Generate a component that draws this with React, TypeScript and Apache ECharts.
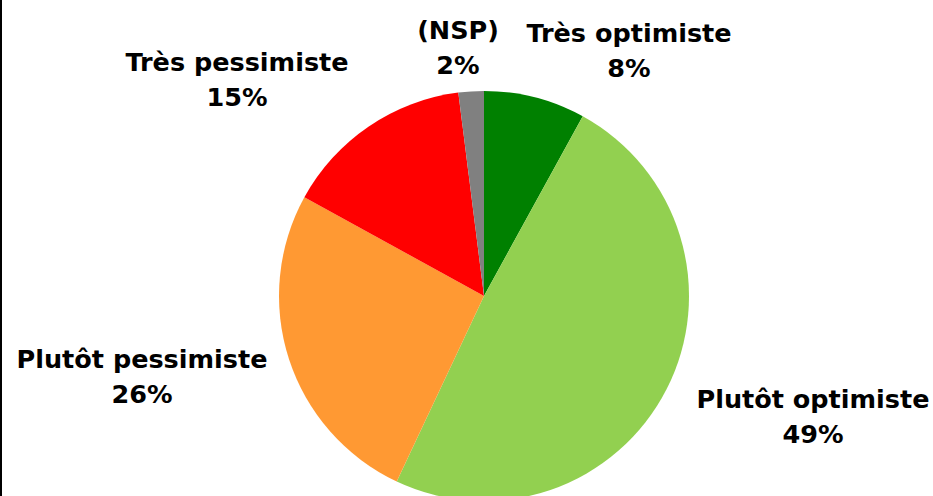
import React, { useEffect, useRef } from "react";
import * as echarts from "echarts";

const categories = ["Très optimiste", "Plutôt optimiste", "Plutôt pessimiste", "Très pessimiste", "(NSP)"];
const values = [8, 49, 26, 15, 2];
const colors = ["#008000", "#92D050", "#FF9933", "#FF0000", "#808080"];
const labelPos = [
  [629, 50],
  [813, 416],
  [142, 376],
  [237, 79],
  [458, 47],
];

export default function App() {
  const ref = useRef<HTMLDivElement>(null);
  useEffect(() => {
    document.body.style.margin = "0";
    const chart = echarts.init(ref.current!, null, { renderer: "svg" });
    chart.setOption({
      animation: false,
      backgroundColor: "#ffffff",
      graphic: [
        { type: "line", shape: { x1: 1, y1: 0, x2: 1, y2: 496 }, style: { stroke: "#000", lineWidth: 2 } },
      ],
      series: [
        {
          type: "pie",
          center: [484, 296],
          radius: 205,
          startAngle: 90,
          clockwise: true,
          data: categories.map((c, i) => ({ name: c, value: values[i], itemStyle: { color: colors[i] } })),
          label: {
            show: true,
            formatter: "{b}\n{c}%",
            fontFamily: "DejaVu Sans",
            fontWeight: "bold",
            fontSize: 25.5,
            lineHeight: 35,
            color: "#000",
            align: "center",
            overflow: "none",
          },
          labelLine: { show: false },
          labelLayout: (p: any) => ({
            x: labelPos[p.dataIndex][0],
            y: labelPos[p.dataIndex][1],
            align: "center",
            verticalAlign: "middle",
            width: 400,
          }),
          emphasis: { disabled: true },
        },
      ],
    });
    return () => chart.dispose();
  }, []);
  return <div ref={ref} style={{ width: 933, height: 496 }} />;
}
